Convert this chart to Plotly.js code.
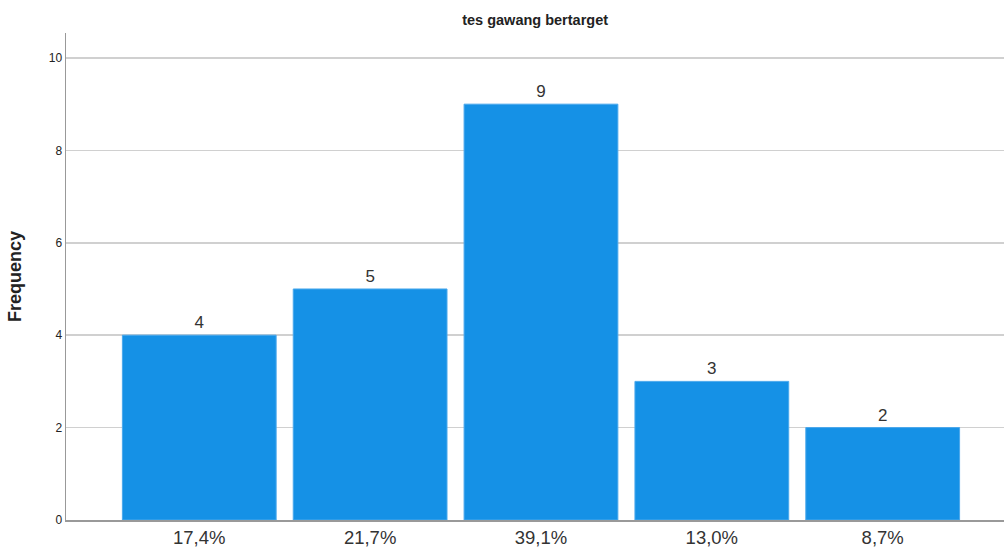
<!DOCTYPE html>
<html><head><meta charset="utf-8">
<script src="https://cdn.plot.ly/plotly-3.0.1.min.js"></script>
<style>html,body{margin:0;padding:0;background:#fff}#c{width:1004px;height:552px}</style>
</head><body><div id="c"></div>
<script>
var categories = ["17,4%", "21,7%", "39,1%", "13,0%", "8,7%"];
var frequencies = [4, 5, 9, 3, 2];
var yTicks = [0, 2, 4, 6, 8, 10];

var trace = {
  type: 'bar',
  x: categories,
  y: frequencies,
  text: frequencies.map(String),
  textposition: 'outside',
  cliponaxis: false,
  textfont: {family: 'Liberation Sans, Arial, sans-serif', size: 17, color: '#333'},
  marker: {color: '#1591e6', line: {color: '#4aa8ec', width: 1}},
  width: 0.9,
  hoverinfo: 'skip'
};
var layout = {
  width: 1004, height: 552,
  margin: {l: 66, r: 0, t: 33, b: 32},
  paper_bgcolor: '#fff', plot_bgcolor: '#fff',
  font: {family: 'Liberation Sans, Arial, sans-serif', color: '#222'},
  title: {text: '<b>tes gawang bertarget</b>', x: 0.533, xanchor: 'center', y: 0.963, yanchor: 'middle', font: {size: 14.5, color: '#222'}},
  showlegend: false,
  xaxis: {
    type: 'category', range: [-0.78, 4.71], showgrid: false, showline: true, linecolor: '#999', linewidth: 1.5,
    ticks: '', tickfont: {size: 18.5, color: '#333'}, fixedrange: true
  },
  yaxis: {
    range: [0, 10.54], tickvals: yTicks, ticktext: yTicks.map(String), showgrid: true, gridcolor: '#d0d0d0', gridwidth: 1.5,
    showline: true, linecolor: '#999', linewidth: 1.5, ticks: '', zeroline: false,
    tickfont: {size: 12, color: '#222'},
    title: {text: '<b>Frequency</b>', font: {size: 18, color: '#222'}, standoff: 22}
  },
  bargap: 0.1
};
Plotly.newPlot('c', [trace], layout, {displayModeBar: false, staticPlot: true});
</script></body></html>
